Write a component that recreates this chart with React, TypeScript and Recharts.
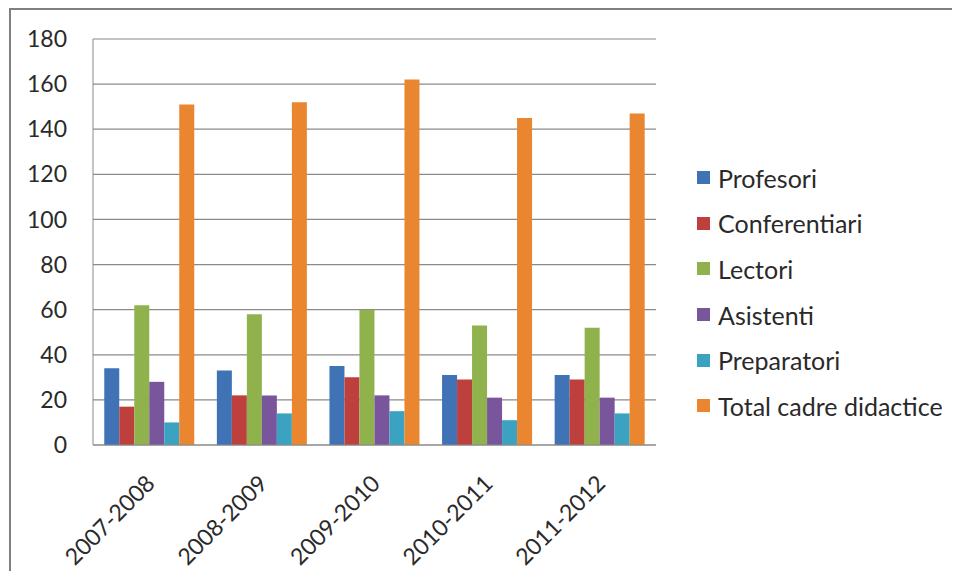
import React from "react";
import { BarChart, Bar, XAxis, YAxis, CartesianGrid } from "recharts";

const years = ["2007-2008", "2008-2009", "2009-2010", "2010-2011", "2011-2012"];
const profesori = [34, 33, 35, 31, 31];
const conferentiari = [17, 22, 30, 29, 29];
const lectori = [62, 58, 60, 53, 52];
const asistenti = [28, 22, 22, 21, 21];
const preparatori = [10, 14, 15, 11, 14];
const total = [151, 152, 162, 145, 147];
const yTicks = [0, 20, 40, 60, 80, 100, 120, 140, 160, 180];

const seriesNames = ["Profesori", "Conferentiari", "Lectori", "Asistenti", "Preparatori", "Total cadre didactice"];
const seriesKeys = ["profesori", "conferentiari", "lectori", "asistenti", "preparatori", "total"];
const colors = ["#3F73B5", "#BD403D", "#8FB24C", "#79559C", "#3CA2C1", "#EA8530"];

const data = years.map((y, i) => ({
  year: y,
  profesori: profesori[i],
  conferentiari: conferentiari[i],
  lectori: lectori[i],
  asistenti: asistenti[i],
  preparatori: preparatori[i],
  total: total[i],
}));

const FONT = "Lato, 'Open Sans', sans-serif";

const XTick = (props: any) => {
  const { x, y, payload } = props;
  const px = x + 7;
  const py = y + 40;
  return (
    <text
      x={px}
      y={py}
      transform={`rotate(-45, ${px}, ${py})`}
      textAnchor="end"
      fill="#2a2a2a"
      fontSize={23}
      fontFamily={FONT}
    >
      {payload.value}
    </text>
  );
};

export default function App() {
  return (
    <div style={{ position: "relative", width: 944, height: 563 }}>
      <style>{"html,body{overflow:hidden;}"}</style>
      <div style={{ position: "absolute", left: 1, top: 0, width: 951, height: 2, background: "#808080" }} />
      <div style={{ position: "absolute", left: 1, top: 0, width: 2, height: 571, background: "#808080" }} />
      <div style={{ position: "absolute", left: 0, top: 0 }}>
        <BarChart
          width={944}
          height={571}
          data={data}
          margin={{ top: 31, right: 296, bottom: 0, left: 0 }}
          barCategoryGap="10%"
          barGap={0}
        >
          <CartesianGrid horizontal={true} vertical={false} stroke="#8a8a8a" strokeWidth={1.2} />
          <XAxis
            dataKey="year"
            height={134}
            tickLine={false}
            tickSize={0}
            tickMargin={0}
            axisLine={{ stroke: "#8a8a8a" }}
            tick={<XTick />}
            interval={0}
          />
          <YAxis
            width={85}
            domain={[0, 180]}
            ticks={yTicks}
            tickLine={false}
            tickSize={0}
            tickMargin={26}
            axisLine={{ stroke: "#8a8a8a" }}
            tick={{ fill: "#2a2a2a", fontSize: 23, fontFamily: FONT }}
          />
          {seriesKeys.map((k, i) => (
            <Bar key={k} dataKey={k} name={seriesNames[i]} fill={colors[i]} isAnimationActive={false} />
          ))}
        </BarChart>
      </div>
      <div
        style={{
          position: "absolute",
          left: 689,
          top: 147,
          fontFamily: FONT,
          fontSize: 25,
          color: "#2a2a2a",
          whiteSpace: "nowrap",
        }}
      >
        {seriesNames.map((n, i) => (
          <div key={n} style={{ display: "flex", alignItems: "center", height: 45.6 }}>
            <span style={{ display: "inline-block", width: 13, height: 13, background: colors[i], marginRight: 8 }} />
            <span>{n}</span>
          </div>
        ))}
      </div>
    </div>
  );
}
